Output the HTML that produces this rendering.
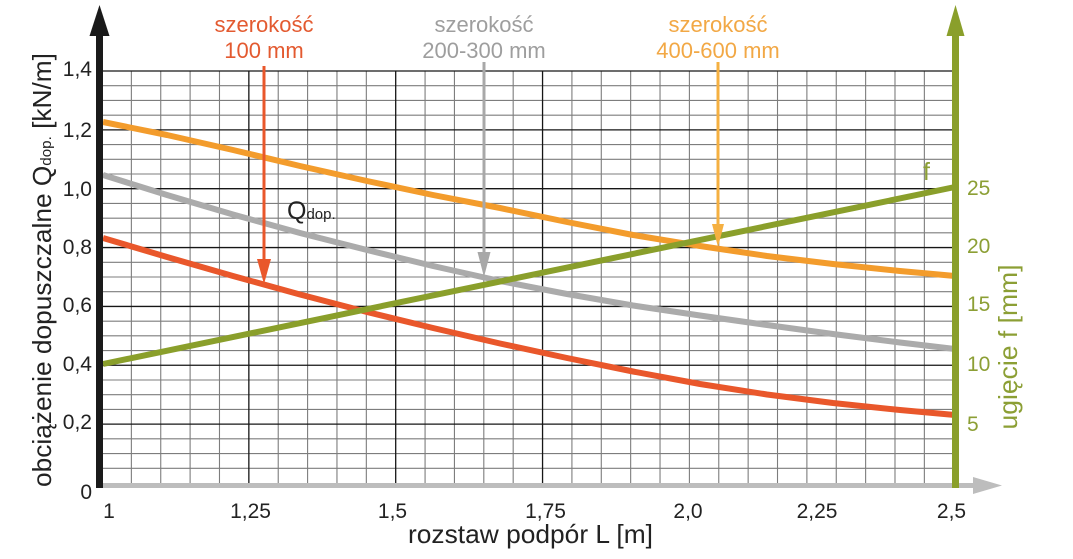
<!DOCTYPE html>
<html>
<head>
<meta charset="utf-8">
<style>
  html,body{margin:0;padding:0;background:#fff;}
  svg{display:block;}
  text{font-family:"Liberation Sans", Arial, sans-serif;}
</style>
</head>
<body>
<svg width="1073" height="559" viewBox="0 0 1073 559" xmlns="http://www.w3.org/2000/svg">
  <rect width="1073" height="559" fill="#fff"/>

  <!-- minor grid -->
  <g stroke="#7d7d7d" stroke-width="1.1" fill="none">
    <path d="M131.37 71V483M160.74 71V483M190.11 71V483M219.48 71V483M278.22 71V483M307.59 71V483M336.96 71V483M366.33 71V483M425.07 71V483M454.44 71V483M483.81 71V483M513.18 71V483M571.92 71V483M601.29 71V483M630.66 71V483M660.03 71V483M689.4 71V483M718.77 71V483M748.14 71V483M777.51 71V483M806.88 71V483M836.25 71V483M865.62 71V483M894.99 71V483M924.36 71V483"/>
    <path d="M102 85.71H955M102 100.43H955M102 115.14H955M102 144.57H955M102 159.28H955M102 174H955M102 203.43H955M102 218.14H955M102 232.86H955M102 262.28H955M102 277H955M102 291.71H955M102 321.14H955M102 335.86H955M102 350.57H955M102 380H955M102 394.71H955M102 409.43H955M102 438.86H955M102 453.57H955M102 468.28H955"/>
  </g>
  <!-- major grid -->
  <g stroke="#161616" stroke-width="1.3" fill="none">
    <path d="M248.85 71V483M395.7 71V483M542.55 71V483"/>
    <path d="M102 71H955M102 129.86H955M102 188.71H955M102 247.57H955M102 306.43H955M102 365.28H955M102 424.14H955"/>
  </g>

  <!-- curves -->
  <g fill="none" stroke-width="6" stroke-linejoin="round" stroke-linecap="butt">
    <polyline stroke="#F39C2C" points="103,122 167,135 233,150 300,166 367,181 433,195 500,208 567,222 633,235 700,246 767,256 833,264 900,271 955,276"/>
    <polyline stroke="#ABABAB" points="103,175 167,195 233,214.5 300,233 367,250 433,266 500,281 567,294 633,305.5 700,315.5 767,325 833,334 900,342.5 955,349"/>
    <polyline stroke="#E9572B" points="103,238 167,257 233,276 300,294.5 367,312 433,328 500,343.5 567,358 633,371.5 700,384 767,394.5 833,403 900,410 955,415"/>
    <line stroke="#8A9F2B" x1="103" y1="364" x2="955" y2="187"/>
  </g>

  <!-- arrows from labels -->
  <g>
    <line x1="264" y1="66" x2="264" y2="264" stroke="#E9572B" stroke-width="3"/>
    <polygon points="257,259 271,259 264,284" fill="#E9572B"/>
    <line x1="484" y1="62" x2="484" y2="257" stroke="#A8A8A8" stroke-width="3"/>
    <polygon points="477.5,252 490.5,252 484,277" fill="#A8A8A8"/>
    <line x1="718" y1="62" x2="718" y2="228" stroke="#F5B041" stroke-width="3"/>
    <polygon points="712,224 724,224 718,247" fill="#F5B041"/>
  </g>

  <!-- axes -->
  <rect x="103" y="483" width="872" height="5" fill="#BDBDBD"/>
  <polygon points="973,477 973,494 1002,485.5" fill="#BDBDBD"/>
  <rect x="96" y="33" width="7" height="455" fill="#1a1a1a"/>
  <polygon points="99.5,5 89.5,36 109.5,36" fill="#1a1a1a"/>
  <rect x="952" y="33" width="7" height="455" fill="#8A9F2B"/>
  <polygon points="955.5,5 946.5,36 964.5,36" fill="#8A9F2B"/>

  <!-- left tick labels -->
  <g font-size="21" fill="#222" text-anchor="end">
    <text x="92" y="76">1,4</text>
    <text x="92" y="137">1,2</text>
    <text x="92" y="196">1,0</text>
    <text x="92" y="254">0,8</text>
    <text x="92" y="312">0,6</text>
    <text x="92" y="371">0,4</text>
    <text x="92" y="429">0,2</text>
    <text x="92" y="499">0</text>
  </g>

  <!-- bottom tick labels -->
  <g font-size="21" fill="#222" text-anchor="middle">
    <text x="109" y="518">1</text>
    <text x="250.5" y="518">1,25</text>
    <text x="392.5" y="518">1,5</text>
    <text x="545.5" y="518">1,75</text>
    <text x="688" y="518">2,0</text>
    <text x="817" y="518">2,25</text>
    <text x="951.5" y="518">2,5</text>
  </g>

  <!-- right tick labels -->
  <g font-size="21" fill="#8C9F35">
    <text x="967" y="195">25</text>
    <text x="967" y="253">20</text>
    <text x="967" y="311">15</text>
    <text x="967" y="371">10</text>
    <text x="967" y="431">5</text>
  </g>

  <!-- axis titles -->
  <text x="408" y="543" font-size="26" fill="#222" textLength="245" lengthAdjust="spacingAndGlyphs">rozstaw podpór L [m]</text>
  <text transform="translate(51,270) rotate(-90)" x="0" y="0" font-size="26" fill="#222" text-anchor="middle" textLength="434" lengthAdjust="spacingAndGlyphs">obciążenie dopuszczalne Q<tspan font-size="15">dop.</tspan> [kN/m]</text>
  <text transform="translate(1017,347) rotate(-90)" x="0" y="0" font-size="26" fill="#8C9F35" text-anchor="middle" textLength="165" lengthAdjust="spacingAndGlyphs">ugięcie f [mm]</text>

  <!-- in-plot labels -->
  <text x="287" y="219" font-size="25" fill="#222">Q<tspan font-size="15">dop.</tspan></text>
  <text x="923" y="180" font-size="25" fill="#8C9F35">f</text>

  <!-- top labels -->
  <g font-size="22" text-anchor="middle">
    <text x="264" y="32" fill="#E35A30">szerokość</text>
    <text x="264" y="58" fill="#E35A30">100 mm</text>
    <text x="484" y="32" fill="#9E9E9E">szerokość</text>
    <text x="484" y="58" fill="#9E9E9E">200-300 mm</text>
    <text x="718" y="32" fill="#F2A845">szerokość</text>
    <text x="718" y="58" fill="#F2A845">400-600 mm</text>
  </g>
</svg>
</body>
</html>
